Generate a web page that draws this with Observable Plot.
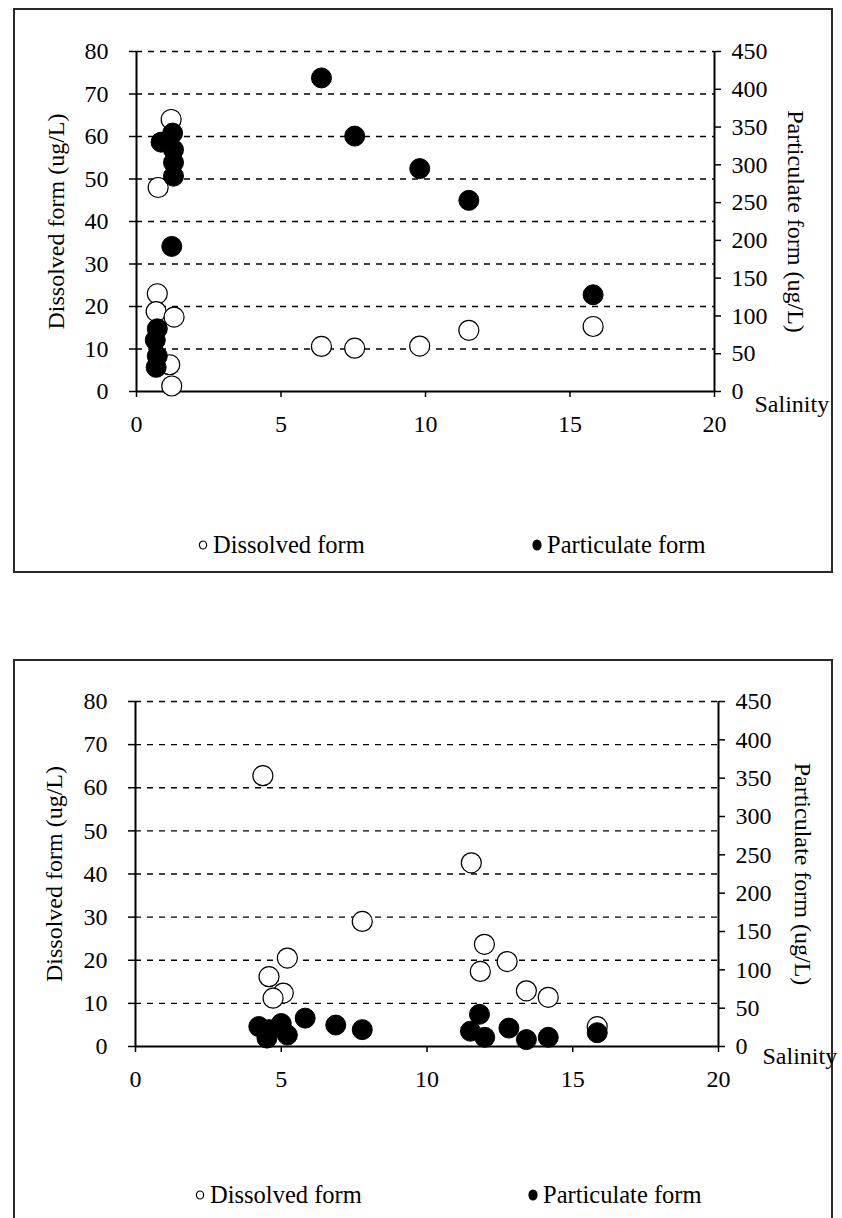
<!DOCTYPE html>
<html>
<head>
<meta charset="utf-8">
<script src="https://cdn.jsdelivr.net/npm/d3@7"></script>
<script src="https://cdn.jsdelivr.net/npm/@observablehq/plot@0.6"></script>
<style>
  html, body { margin: 0; padding: 0; background: #fff; }
  body { width: 842px; height: 1218px; overflow: hidden; position: relative;
         font-family: "Liberation Serif", "Times New Roman", serif; color: #000; }
  .box { position: absolute; border: 2px solid #2a2a2a; box-sizing: border-box; }
  .panel { position: absolute; left: 0; }
  .legend-item { position: absolute; font-size: 24.5px; line-height: 24px; white-space: nowrap;
                 display: flex; align-items: center; }
  .legend-item svg { margin-right: 5px; }
</style>
</head>
<body>
<div class="box" style="left:13px; top:8px; width:820px; height:565px;"></div>
<div class="box" style="left:13px; top:659px; width:820px; height:620px;"></div>
<div id="top" class="panel" style="top:0px;"></div>
<div id="bottom" class="panel" style="top:650px;"></div>
<div id="legendTop"></div>
<div id="legendBottom"></div>
<script>
// ---- Data (salinity vs. concentration, ug/L) ----
// Top panel
const topDissolvedSalinity = [1.2, 0.75, 0.72, 0.68, 1.3, 1.15, 1.22, 6.4, 7.55, 9.8, 11.5, 15.8];
const topDissolvedValue    = [64, 48, 23, 18.8, 17.5, 6.3, 1.3, 10.6, 10.2, 10.7, 14.4, 15.3];
const topParticulateSalinity = [0.85, 1.25, 1.28, 1.28, 1.28, 1.22, 0.72, 0.65, 0.72, 0.68, 6.4, 7.55, 9.8, 11.5, 15.8];
const topParticulateValue    = [330, 342, 320, 303, 285, 192, 83, 68, 47, 32, 415, 338, 295, 253, 128];
// Bottom panel
const bottomDissolvedSalinity = [4.37, 11.52, 7.78, 11.97, 5.21, 12.75, 4.58, 11.83, 5.07, 4.72, 13.41, 14.16, 15.84];
const bottomDissolvedValue    = [62.8, 42.6, 29.0, 23.7, 20.5, 19.7, 16.2, 17.4, 12.4, 11.2, 12.9, 11.4, 4.6];
const bottomParticulateSalinity = [4.23, 4.58, 4.51, 5.0, 5.21, 5.82, 6.87, 7.78, 11.8, 11.49, 11.98, 12.81, 13.41, 14.16, 15.84];
const bottomParticulateValue    = [26, 22, 11, 30, 15, 37, 28, 22, 42, 20, 12, 24, 9, 12, 18];
// Axes
const salinityTicks = [0, 5, 10, 15, 20];
const dissolvedTicks = [0, 10, 20, 30, 40, 50, 60, 70, 80];
const particulateTicks = [0, 50, 100, 150, 200, 250, 300, 350, 400, 450];
const dissolvedMax = 80, particulateMax = 450;
const leftTitle = "Dissolved form (ug/L)";
const rightTitle = "Particulate form (ug/L)";
const xTitle = "Salinity";
const legendLabels = ["Dissolved form", "Particulate form"];

const ratio = dissolvedMax / particulateMax; // secondary axis mapping

function makePanel(dSal, dVal, pSal, pVal, o) {
  const dissolved = dSal.map((s, i) => ({s, v: dVal[i]}));
  const particulate = pSal.map((s, i) => ({s, v: pVal[i]}));
  return Plot.plot({
    width: 842,
    height: o.height,
    marginLeft: o.left,
    marginRight: o.right,
    marginTop: o.top,
    marginBottom: o.bottom,
    style: {fontFamily: '"Liberation Serif", "Times New Roman", serif', fontSize: "24px",
            background: "transparent", overflow: "visible", color: "#000"},
    x: {domain: [0, 20]},
    y: {domain: [0, dissolvedMax]},
    marks: [
      Plot.ruleY(dissolvedTicks.filter(d => d > 0), {stroke: "#000", strokeWidth: 1.4, strokeDasharray: "6,6"}),
      Plot.ruleY([0], {stroke: "#000", strokeWidth: 2}),
      Plot.ruleX([0], {stroke: "#000", strokeWidth: 2}),
      Plot.ruleX([20], {stroke: "#000", strokeWidth: 2}),
      Plot.axisY(dissolvedTicks, {anchor: "left", tickSize: 7, tickPadding: 21, strokeWidth: 1.5, label: null, fontSize: 24}),
      Plot.axisY(particulateTicks.map(t => t * ratio), {anchor: "right", tickSize: 6, tickPadding: 11, strokeWidth: 1.5,
        label: null, fontSize: 24, tickFormat: d => String(Math.round(d / ratio))}),
      Plot.axisX(salinityTicks, {anchor: "bottom", tickSize: 6, tickPadding: 17, strokeWidth: 1.5, label: null, fontSize: 24}),
      Plot.text([leftTitle], {frameAnchor: "left", textAnchor: "middle", lineAnchor: "middle", rotate: -90, dx: o.leftTitleDx, fontSize: 24}),
      Plot.text([rightTitle], {frameAnchor: "right", textAnchor: "middle", lineAnchor: "middle", rotate: 90, dx: o.rightTitleDx, fontSize: 24}),
      Plot.text([xTitle], {frameAnchor: "bottom-right", textAnchor: "start", lineAnchor: "middle", dx: o.salDx, dy: o.salDy, fontSize: 24}),
      Plot.dot(dissolved, {x: "s", y: "v", r: 10, fill: "#fff", stroke: "#000", strokeWidth: 1.2}),
      Plot.dot(particulate, {x: "s", y: d => d.v * ratio, r: 10, fill: "#000", stroke: "#000", strokeWidth: 1})
    ]
  });
}

document.getElementById("top").appendChild(makePanel(
  topDissolvedSalinity, topDissolvedValue, topParticulateSalinity, topParticulateValue,
  {height: 440, left: 136, right: 128, top: 51, bottom: 49, leftTitleDx: -80, rightTitleDx: 81, salDx: 40, salDy: 13}));
document.getElementById("bottom").appendChild(makePanel(
  bottomDissolvedSalinity, bottomDissolvedValue, bottomParticulateSalinity, bottomParticulateValue,
  {height: 445, left: 135, right: 124, top: 51, bottom: 49, leftTitleDx: -81, rightTitleDx: 84, salDx: 44, salDy: 10}));

function legend(containerId, y, positions) {
  const c = document.getElementById(containerId);
  legendLabels.forEach((label, i) => {
    const item = document.createElement("div");
    item.className = "legend-item";
    item.style.left = (positions[i] - 5) + "px";
    item.style.top = (y - 12) + "px";
    const filled = i === 1;
    item.innerHTML = `<svg width="10" height="12" viewBox="0 0 10 12"><ellipse cx="5" cy="6" rx="${filled ? 4 : 3.6}" ry="${filled ? 5 : 4}" fill="${filled ? "#000" : "#fff"}" stroke="#000" stroke-width="1.2"/></svg><span>${label}</span>`;
    c.appendChild(item);
  });
}
legend("legendTop", 545, [203, 537]);
legend("legendBottom", 1195, [200, 533]);
</script>
</body>
</html>
